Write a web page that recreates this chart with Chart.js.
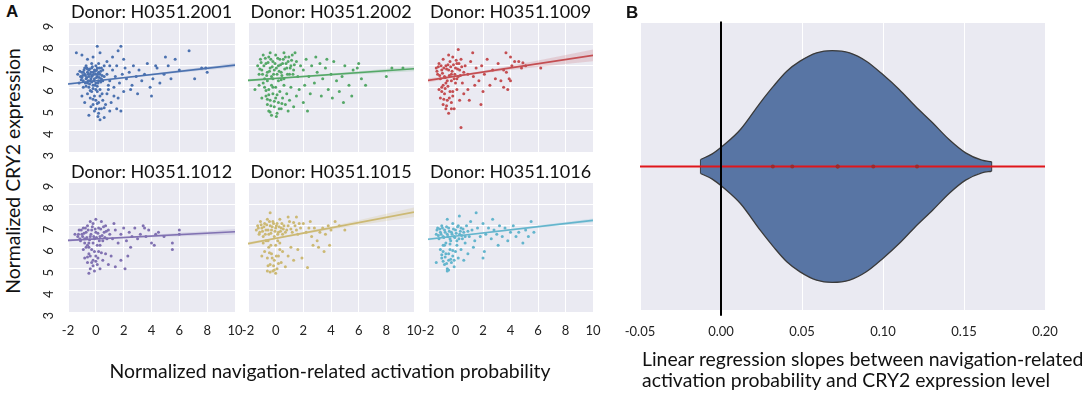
<!DOCTYPE html>
<html lang="en">
<head>
<meta charset="UTF-8">
<title>Navigation-related activation probability vs CRY2 expression</title>
<script src="https://cdn.jsdelivr.net/npm/chart.js"></script>
<style>
  body { margin: 0; background: #fff; font-family: Lato, sans-serif; }
  #fig { position: relative; width: 1084px; height: 395px; overflow: hidden; }
  #fig canvas { position: absolute; }
  .txt { position: absolute; color: #111; white-space: nowrap; font-size: 19.4px; }
  .panel { font-family: "Liberation Sans", Arial, sans-serif; font-weight: bold; font-size: 17px; }
</style>
</head>
<body>
<div id="fig">
  <canvas id="d0"></canvas>
  <canvas id="d1"></canvas>
  <canvas id="d2"></canvas>
  <canvas id="d3"></canvas>
  <canvas id="d4"></canvas>
  <canvas id="d5"></canvas>
  <canvas id="violin"></canvas>
  <div class="txt panel" style="left:6px; top:2px;">A</div>
  <div class="txt panel" style="left:626px; top:3px;">B</div>
  <div class="txt" style="left:12px; top:171px; transform:translate(-50%,-50%) rotate(-90deg);">Normalized CRY2 expression</div>
  <div class="txt" style="left:330px; top:370px; transform:translate(-50%,-50%);">Normalized navigation-related activation probability</div>
  <div class="txt" style="left:642px; top:348px; line-height:21px;">Linear regression slopes between navigation-related<br>activation probability and CRY2 expression level</div>
</div>

<script>
// ---- data ----
const donors = ['Donor: H0351.2001', 'Donor: H0351.2002', 'Donor: H0351.1009',
                'Donor: H0351.1012', 'Donor: H0351.1015', 'Donor: H0351.1016'];
const xTicksA = [-2, 0, 2, 4, 6, 8, 10];
const yTicksA = [3, 4, 5, 6, 7, 8, 9];
const xTicksB = [-0.05, 0.00, 0.05, 0.10, 0.15, 0.20];

// scatter points [activation probability, CRY2 expression]
const pts2001 = [[-1.1,6.5],[-1.0,6.7],[-0.9,6.3],[-0.8,6.6],[-0.8,6.9],[-0.7,6.4],[-0.6,6.7],[-0.6,6.2],[-0.5,6.5],[-0.5,6.8],
  [-0.4,6.6],[-0.4,6.3],[-0.3,6.9],[-0.3,6.5],[-0.2,6.7],[-0.2,6.1],[-0.1,6.4],[-0.1,6.8],[0.0,6.6],[0.0,6.2],[0.1,6.9],[0.1,6.5],
  [0.2,6.3],[0.2,6.7],[0.3,6.6],[0.4,6.4],[0.4,6.9],[-0.9,6.0],[-1.2,6.2],[-1.3,6.6],[-0.7,7.0],[-0.3,7.1],[0.2,7.1],[0.5,6.8],
  [0.6,6.5],[-0.5,6.0],[0.0,5.9],[-0.6,5.7],[-0.4,5.5],[-0.3,5.8],[-0.2,5.2],[-0.1,5.6],[0.0,5.0],[0.0,5.4],[0.1,5.8],[0.2,4.8],
  [0.2,5.3],[0.3,5.6],[0.4,5.0],[0.5,5.4],[0.6,4.6],[0.7,5.2],[0.8,5.7],[1.0,4.9],[1.1,5.3],[1.3,5.6],[1.5,5.0],[-0.8,5.3],
  [-1.0,5.6],[-0.5,4.7],[0.3,4.5],[0.9,5.9],[1.8,4.9],[1.6,5.5],[-0.1,4.9],[-1.0,7.5],[-0.6,7.3],[-0.2,7.4],[0.1,7.9],[0.3,7.6],
  [0.8,7.2],[1.2,7.4],[1.6,7.7],[1.8,7.9],[2.0,7.3],[-1.4,7.6],[0.6,7.0],[1.0,7.0],[0.8,6.6],[1.0,6.3],[1.2,6.8],[1.4,6.5],
  [1.5,7.0],[1.7,6.2],[1.9,6.6],[2.1,6.9],[2.2,6.4],[2.4,6.7],[2.6,6.1],[2.7,7.0],[2.9,6.5],[3.1,6.8],[3.3,6.3],[3.5,6.6],
  [3.7,7.1],[3.9,6.0],[4.1,6.4],[2.0,5.8],[2.5,5.9],[3.0,5.7],[4.0,5.6],[1.3,6.0],[0.9,6.1],[4.4,6.9],[4.6,6.2],[4.9,6.6],
  [5.2,7.0],[5.4,6.4],[5.7,7.3],[6.0,6.8],[6.7,7.7],[7.1,6.4],[7.6,6.9],[8.0,6.7],[7.9,6.9],[5.0,7.4],[4.3,7.0],
  [-1.15,6.75],[-1.05,6.35],[-0.95,6.55],[-0.85,6.8],[-0.75,6.2],[-0.75,6.55],[-0.65,6.9],[-0.65,6.45],[-0.55,6.3],[-0.55,6.6],
  [-0.45,6.85],[-0.45,6.15],[-0.35,6.4],[-0.35,6.7],[-0.25,6.55],[-0.25,6.95],[-0.15,6.3],[-0.15,6.6],[-0.05,6.75],[-0.05,6.1],
  [0.05,6.45],[0.05,6.8],[0.15,6.2],[0.15,6.6],[0.25,6.9],[0.25,6.45],[0.35,6.25],[0.35,6.75],[0.45,6.55],[-0.3,6.25],
  [-0.6,6.85],[-0.9,6.7],[-1.0,6.45],[0.0,7.0],[-0.2,5.95],[0.1,6.05],[-0.7,6.05],[0.5,6.3],[-0.4,5.85],[0.3,5.9],
  [-0.2,5.45],[0.1,5.25],[0.25,5.0],[0.45,5.7],[-0.35,5.1],[0.6,5.05],[0.15,4.65]];
const pts2002 = [[-1.3,7.0],[-1.2,6.6],[-1.1,7.3],[-1.0,6.8],[-0.9,7.5],[-0.8,6.4],[-0.7,7.1],[-0.6,6.7],[-0.5,7.4],[-0.4,6.9],
  [-0.3,6.5],[-0.2,7.2],[-0.1,6.8],[0.0,7.5],[0.1,6.6],[0.2,7.0],[0.3,7.3],[0.4,6.7],[0.5,7.1],[0.6,6.4],[0.7,7.4],[0.8,6.9],
  [0.9,7.2],[1.0,6.6],[1.1,7.0],[1.2,7.5],[1.3,6.8],[1.5,7.2],[1.6,6.5],[1.8,7.0],[-0.9,6.2],[0.2,6.3],[1.4,7.6],[-0.4,7.6],
  [0.6,7.6],[-0.8,6.0],[-0.7,5.6],[-0.6,5.2],[-0.5,5.9],[-0.5,4.9],[-0.4,5.4],[-0.3,6.1],[-0.3,4.7],[-0.2,5.7],[-0.1,5.1],
  [0.0,5.5],[0.0,6.0],[0.1,4.8],[0.2,5.3],[0.3,5.8],[0.4,5.0],[0.5,5.5],[0.6,6.1],[0.7,5.2],[0.8,5.7],[1.0,5.4],[1.1,6.0],
  [1.3,5.1],[1.5,5.6],[-1.0,5.5],[-1.5,5.9],[-1.2,6.1],[0.9,4.9],[2.3,4.9],[2.0,5.3],[1.7,5.9],[2.0,6.8],[2.2,7.3],[2.4,6.5],
  [2.6,7.0],[2.8,6.2],[3.0,6.7],[3.2,7.1],[3.4,6.4],[3.6,6.9],[3.8,5.9],[4.0,6.6],[4.2,7.2],[4.4,6.3],[4.6,5.8],[4.8,6.5],
  [5.0,7.0],[2.5,5.7],[3.3,5.6],[4.1,5.5],[2.9,7.4],[3.7,7.3],[2.1,6.1],[5.3,6.1],[5.6,6.8],[5.9,6.9],[6.2,6.4],[6.5,6.1],
  [5.5,5.6],[4.9,5.3],[8.0,6.5],[8.4,6.9],[9.2,6.9],[6.0,7.1],
  [-1.15,6.85],[-1.05,7.15],[-0.95,6.6],[-0.85,7.0],[-0.75,7.35],[-0.65,6.55],[-0.55,7.15],[-0.45,6.75],[-0.35,7.3],[-0.25,6.95],
  [-0.15,6.6],[-0.05,7.1],[0.05,6.9],[0.15,7.35],[0.25,6.75],[0.35,7.05],[0.45,6.55],[0.55,7.3],[0.65,6.85],[0.75,7.1],
  [0.85,6.6],[0.95,7.4],[1.05,6.9],[1.15,7.25],[1.25,6.6],[1.35,7.05],[-0.6,6.3],[-0.2,6.4],[0.4,6.35],[-0.5,5.65],
  [-0.35,5.15],[-0.2,6.0],[-0.1,5.35],[0.1,5.65],[0.25,5.0],[-0.6,5.45],[-0.4,4.85],[0.45,5.25],[0.05,4.65],[-0.7,5.85]];
const pts1009 = [[-1.4,6.9],[-1.3,6.6],[-1.2,7.1],[-1.1,6.4],[-1.0,6.8],[-0.9,7.3],[-0.8,6.5],[-0.7,7.0],[-0.6,6.3],[-0.5,6.8],
  [-0.4,7.2],[-0.3,6.6],[-0.2,7.4],[-0.1,6.4],[0.0,6.9],[0.1,7.1],[0.2,6.5],[0.3,6.8],[0.4,7.3],[0.5,6.2],[0.6,6.7],[0.7,7.0],
  [-0.5,7.5],[0.2,7.75],[-0.9,6.1],[0.0,6.2],[-1.2,5.9],[-1.1,5.5],[-1.0,6.0],[-0.9,5.2],[-0.8,5.7],[-0.7,5.0],[-0.6,5.4],
  [-0.5,4.8],[-0.4,5.8],[-0.3,5.3],[-0.2,5.6],[-0.1,5.0],[0.1,5.9],[0.3,5.4],[0.6,5.7],[0.9,5.9],[0.4,4.14],[0.9,6.6],[1.1,7.2],
  [1.25,7.6],[1.3,6.5],[1.5,6.9],[1.7,6.3],[1.9,7.0],[2.1,6.6],[2.3,7.3],[2.5,6.1],[2.7,6.8],[2.9,6.4],[3.1,7.1],[3.3,6.3],
  [3.5,6.0],[3.7,6.7],[3.9,6.4],[4.1,7.0],[4.3,7.2],[4.6,7.2],[5.1,7.0],[6.2,6.9],[2.0,5.8],[1.4,6.1],[3.8,5.9],[1.0,5.4],
  [4.0,7.4],[4.8,6.9],[3.5,6.8],[4.0,6.3],[1.85,5.2],[3.67,7.6],[4.9,7.14],
  [-1.35,6.75],[-1.25,6.95],[-1.15,6.55],[-1.05,7.0],[-0.95,6.65],[-0.85,6.9],[-0.75,6.45],[-0.65,6.85],[-0.55,7.05],[-0.45,6.55],
  [-0.35,6.95],[-0.25,6.75],[-0.15,7.05],[-0.05,6.6],[0.05,7.25],[0.15,6.85],[0.25,7.1],[0.35,6.55],[0.45,6.95],[-0.7,6.2],
  [-0.3,6.3],[0.1,6.4],[-1.0,5.8],[-0.85,5.45],[-0.75,5.95],[-0.65,5.15],[-0.45,5.5],[-0.3,5.0],[-0.55,6.05],[-0.2,5.8]];
const pts1012 = [[-1.3,6.5],[-1.2,6.8],[-1.1,6.3],[-1.0,6.6],[-0.9,6.9],[-0.8,6.4],[-0.7,6.7],[-0.6,7.0],[-0.5,6.2],[-0.4,6.5],
  [-0.3,6.8],[-0.2,7.1],[-0.1,6.4],[0.0,6.7],[0.1,6.1],[0.2,6.9],[0.3,6.5],[0.4,7.2],[0.5,6.3],[0.6,6.7],[0.7,7.0],[0.8,6.4],
  [0.9,6.8],[-0.6,6.1],[0.0,7.3],[-0.4,7.2],[1.0,6.6],[-1.5,6.6],[-0.9,5.9],[-0.8,5.5],[-0.7,6.0],[-0.6,5.3],[-0.5,5.7],
  [-0.4,5.0],[-0.3,5.9],[-0.2,5.4],[-0.1,4.9],[0.0,5.6],[0.1,5.2],[0.2,5.8],[0.3,5.0],[0.5,5.4],[0.7,5.7],[0.9,5.2],[1.1,5.6],
  [1.4,5.1],[2.1,5.0],[-0.5,4.8],[1.8,5.4],[1.2,6.4],[1.4,6.8],[1.6,6.2],[1.8,6.6],[2.0,6.9],[2.2,6.3],[2.4,6.7],[2.6,6.5],
  [2.8,6.9],[3.0,6.4],[3.2,6.6],[3.4,7.0],[3.6,6.5],[3.8,6.8],[4.0,6.2],[4.2,6.1],[4.3,6.6],[4.5,6.7],[2.3,5.6],[1.3,7.1],
  [2.5,6.0],[3.5,6.9],[5.5,6.2],[5.5,5.9],[6.0,6.8],[6.0,6.6],[4.9,6.5],
  [-1.25,6.6],[-1.15,6.4],[-1.05,6.8],[-0.95,6.5],[-0.85,6.65],[-0.75,6.9],[-0.65,6.45],[-0.55,6.8],[-0.45,6.35],[-0.35,6.6],
  [-0.25,6.95],[-0.15,6.5],[-0.05,6.85],[0.05,6.45],[0.15,6.65],[0.25,6.3],[0.35,6.85],[0.45,6.55],[0.55,6.95],[0.65,6.45],
  [0.75,6.75],[-0.8,6.2],[-0.2,6.2],[0.3,6.1],[-0.5,6.0],[-0.4,5.6],[-0.2,5.15],[0.0,5.35],[0.15,5.5],[-0.6,5.55],
  [0.4,5.75],[-0.1,5.8],[-0.3,5.3]];
const pts1015 = [[-1.4,6.8],[-1.3,7.0],[-1.2,6.6],[-1.1,7.2],[-1.0,6.9],[-0.9,6.5],[-0.8,7.1],[-0.7,6.8],[-0.6,7.3],[-0.5,6.6],
  [-0.4,7.0],[-0.3,6.8],[-0.2,7.2],[-0.1,6.5],[0.0,6.9],[0.1,7.1],[0.2,6.7],[0.3,7.3],[0.4,6.9],[0.5,6.6],[0.6,7.0],[0.8,6.8],
  [1.0,7.2],[1.2,6.7],[1.4,7.0],[1.6,6.6],[1.8,6.9],[2.0,7.1],[2.2,6.7],[2.4,6.9],[-0.4,7.6],[0.9,7.4],[1.5,7.4],[-0.9,6.2],
  [-0.8,5.8],[-0.7,6.3],[-0.6,5.5],[-0.5,6.0],[-0.4,5.2],[-0.3,5.7],[-0.2,4.9],[-0.1,5.4],[0.0,6.1],[0.1,5.0],[0.2,5.6],
  [0.3,6.2],[0.4,5.3],[0.5,5.8],[0.7,5.1],[0.9,5.6],[1.1,6.0],[1.3,5.4],[1.6,5.9],[-0.6,4.9],[0.0,4.8],[-1.0,5.6],[2.3,5.06],
  [1.9,5.5],[2.6,6.5],[2.8,6.9],[3.0,6.3],[3.2,6.7],[3.4,6.9],[3.6,6.6],[3.8,7.0],[4.0,6.8],[4.3,7.2],[4.6,7.0],[5.0,6.8],
  [3.1,6.0],[3.5,5.8],[2.7,6.1],[3.9,6.1],[2.5,7.2],
  [-1.25,6.9],[-1.15,6.7],[-1.05,7.05],[-0.95,6.75],[-0.85,6.95],[-0.75,6.6],[-0.65,7.05],[-0.55,6.8],[-0.45,7.2],[-0.35,6.65],
  [-0.25,6.95],[-0.15,7.1],[-0.05,6.75],[0.05,7.0],[0.15,6.6],[0.25,6.95],[0.35,6.75],[0.45,7.1],[0.55,6.85],[0.7,6.7],
  [0.9,7.0],[1.1,6.85],[1.3,7.15],[1.5,6.8],[1.7,7.1],[-0.55,6.3],[-0.35,6.1],[-0.25,5.5],[-0.45,5.75],[-0.15,5.15],
  [0.05,5.6],[0.2,5.25],[-0.55,5.15],[-0.1,4.95],[0.3,5.9],[-0.4,4.85],[0.15,6.3]];
const pts1016 = [[-1.4,6.6],[-1.3,6.9],[-1.2,6.4],[-1.1,6.7],[-1.0,7.0],[-0.9,6.5],[-0.8,6.8],[-0.7,6.2],[-0.6,6.6],[-0.5,6.9],
  [-0.4,6.4],[-0.3,6.7],[-0.2,7.1],[-0.1,6.5],[0.0,6.8],[0.1,6.3],[0.2,7.0],[0.3,6.6],[0.4,6.9],[0.5,6.4],[0.6,6.7],[0.8,7.0],
  [1.0,6.5],[-0.6,7.3],[0.28,7.45],[-0.9,6.1],[0.7,6.2],[-1.1,5.9],[-1.0,5.5],[-0.9,5.8],[-0.8,5.2],[-0.7,5.7],[-0.6,5.0],
  [-0.5,5.4],[-0.4,5.9],[-0.3,5.3],[-0.2,5.6],[-0.1,5.1],[0.0,5.8],[0.2,5.5],[0.4,5.9],[0.6,5.4],[-1.4,5.3],[-0.5,4.95],
  [0.9,5.7],[2.0,5.5],[1.2,6.8],[1.4,6.3],[1.5,7.6],[1.6,6.9],[1.8,6.5],[2.0,7.1],[2.2,6.6],[2.4,6.9],[2.6,6.4],[2.8,6.8],
  [3.0,6.6],[3.2,7.0],[3.4,6.5],[3.6,6.9],[3.8,6.3],[4.0,6.7],[4.2,7.0],[4.4,6.5],[4.6,6.7],[1.3,6.0],[2.1,5.8],[3.1,6.1],
  [1.1,7.2],[2.7,7.3],[5.1,6.8],[5.5,7.2],[5.7,6.7],[4.9,6.2],[5.3,6.5],
  [-1.35,6.8],[-1.25,6.55],[-1.15,6.85],[-1.05,6.6],[-0.95,6.9],[-0.85,6.45],[-0.75,6.7],[-0.65,6.95],[-0.55,6.5],[-0.45,6.75],
  [-0.35,6.3],[-0.25,6.6],[-0.15,6.85],[-0.05,6.45],[0.05,6.65],[0.15,6.95],[0.25,6.4],[0.35,6.75],[0.45,6.55],[0.55,6.85],
  [0.7,6.5],[0.9,6.75],[-0.8,6.1],[-0.4,6.15],[0.1,6.1],[-1.0,5.65],[-0.9,5.35],[-0.75,5.55],[-0.65,5.25],[-0.5,5.7],
  [-0.35,5.45],[-0.6,4.9],[-0.1,5.4],[-0.2,5.85]];
const allPts = [pts2001, pts2002, pts1009, pts1012, pts1015, pts1016];

// regression line end values at x = -2 and x = 10
const fitX = [-2, 10];
const fits = [[6.15, 7.03], [6.32, 6.86], [6.32, 7.48], [6.32, 6.72], [6.17, 7.63], [6.37, 7.25]];

// confidence band edges at bandX
const bandX = [-2, 0, 2, 4, 6, 8, 10];
const bandLo = [[6.09, 6.28, 6.41, 6.55, 6.68, 6.80, 6.93],
                [6.26, 6.39, 6.47, 6.54, 6.61, 6.68, 6.75],
                [6.22, 6.47, 6.65, 6.80, 6.94, 7.08, 7.21],
                [6.26, 6.37, 6.42, 6.47, 6.51, 6.55, 6.59],
                [6.09, 6.38, 6.61, 6.82, 7.02, 7.22, 7.41],
                [6.31, 6.50, 6.63, 6.77, 6.91, 7.03, 7.16]];
const bandHi = [[6.21, 6.32, 6.47, 6.63, 6.80, 6.96, 7.13],
                [6.38, 6.43, 6.53, 6.64, 6.75, 6.86, 6.97],
                [6.42, 6.55, 6.77, 7.00, 7.24, 7.50, 7.75],
                [6.38, 6.41, 6.48, 6.57, 6.67, 6.75, 6.85],
                [6.25, 6.44, 6.71, 6.98, 7.26, 7.56, 7.85],
                [6.43, 6.54, 6.69, 6.85, 7.01, 7.17, 7.34]];

// violin: slope value and half width of the density outline
const violinX = [-0.0126, -0.0054, 0.0021, 0.012, 0.0242, 0.0324, 0.0406, 0.0488, 0.059, 0.0686,
                 0.0794, 0.0897, 0.0999, 0.110, 0.120, 0.1306, 0.1408, 0.151, 0.161, 0.167];
const violinHalf = [0.049, 0.088, 0.153, 0.258, 0.444, 0.56, 0.664, 0.734, 0.792, 0.808,
                    0.792, 0.734, 0.641, 0.537, 0.42, 0.305, 0.188, 0.095, 0.044, 0.033];
const slopes = [0.032, 0.044, 0.072, 0.072, 0.094, 0.121];

// ---- styling ----
const colors = ['#4c72b0', '#55a868', '#c44e52', '#8172b2', '#ccb974', '#64b5cd'];
const bandColors = ['rgba(76,114,176,0.18)', 'rgba(85,168,104,0.18)', 'rgba(196,78,82,0.18)',
                    'rgba(129,114,178,0.18)', 'rgba(204,185,116,0.2)', 'rgba(100,181,205,0.18)'];
const FONT = 'Lato, "Open Sans", sans-serif';

const plotBg = {
  id: 'plotBg',
  beforeDraw(chart) {
    const { ctx, chartArea: a } = chart;
    ctx.save();
    ctx.fillStyle = '#eaeaf2';
    ctx.fillRect(a.left, a.top, a.right - a.left, a.bottom - a.top);
    ctx.restore();
  }
};

function fixTicks(list) {
  return scale => { scale.ticks = list.map(v => ({ value: v })); };
}

// plot area positions of the six small panels
const colLeft = [68, 248, 428];
const colWidth = [167, 166, 165];
const rowTop = [23, 183];
const plotH = 130;
const titleH = 28.6;   // 18px * 1.2 + 7 padding

function donorChart(i) {
  const col = i % 3, row = Math.floor(i / 3);
  const yW = col === 0 ? 25 : 0;
  const xH = row === 1 ? 30 : 0;
  const canvas = document.getElementById('d' + i);
  canvas.width = 25 + colWidth[col] + 25;
  canvas.height = titleH + plotH + xH + 30;
  canvas.style.left = (colLeft[col] - 25) + 'px';
  canvas.style.top = (rowTop[row] - titleH) + 'px';

  const line = (data, extra) => Object.assign({
    type: 'line', data: data, pointRadius: 0, borderWidth: 0, showLine: true, fill: false
  }, extra);

  new Chart(canvas, {
    type: 'scatter',
    data: {
      datasets: [
        line(fitX.map((x, k) => [x, fits[i][k]]), { borderColor: colors[i], borderWidth: 1.6, order: 0 }),
        line(bandX.map((x, k) => [x, bandLo[i][k]]), { borderColor: 'transparent', order: 1 }),
        line(bandX.map((x, k) => [x, bandHi[i][k]]), { borderColor: 'transparent', backgroundColor: bandColors[i], fill: '-1', order: 1 }),
        { data: allPts[i], backgroundColor: colors[i], pointRadius: 1.5, pointBorderWidth: 0, order: 2 }
      ]
    },
    options: {
      responsive: false,
      animation: false,
      layout: { padding: { left: 25 - yW, right: 25, top: 0, bottom: 30 } },
      plugins: {
        legend: { display: false },
        tooltip: { enabled: false },
        title: {
          display: true, text: donors[i], fullSize: false, color: '#111',
          font: { family: FONT, size: 18, weight: 'normal', lineHeight: 1.2 },
          padding: { top: 7, bottom: 0 }
        }
      },
      scales: {
        x: {
          min: -2, max: 10,
          afterBuildTicks: fixTicks(xTicksA),
          afterFit: s => { s.height = xH; },
          grid: { color: '#ffffff', lineWidth: 1, drawTicks: false },
          border: { display: false },
          ticks: { display: row === 1, padding: 11, color: '#222', maxRotation: 0,
                   font: { family: FONT, size: 13 } }
        },
        y: {
          min: 3, max: 9,
          afterBuildTicks: fixTicks(yTicksA),
          afterFit: s => { s.width = yW; },
          grid: { color: '#ffffff', lineWidth: 1, drawTicks: false },
          border: { display: false },
          ticks: { display: col === 0, padding: 19, color: '#222', minRotation: 90, maxRotation: 90,
                   font: { family: FONT, size: 13 } }
        }
      }
    },
    plugins: [plotBg]
  });
}

for (let i = 0; i < 6; i++) donorChart(i);

// ---- panel B: violin of regression slopes ----
const vCanvas = document.getElementById('violin');
vCanvas.width = 32 + 405 + 32;
vCanvas.height = 4 + 287 + 30 + 10;
vCanvas.style.left = (640 - 32) + 'px';
vCanvas.style.top = (23 - 4) + 'px';

const edge = { type: 'line', pointRadius: 0, showLine: true, fill: false,
               borderColor: '#3a3a3a', borderWidth: 1.3, cubicInterpolationMode: 'monotone' };
const last = violinX.length - 1;

new Chart(vCanvas, {
  type: 'scatter',
  data: {
    datasets: [
      { type: 'line', data: [[0, 1.01], [0, -1.04]], borderColor: '#000', borderWidth: 2,
        pointRadius: 0, showLine: true, fill: false, clip: false, order: 0 },
      { data: slopes.map(s => [s, 0]), backgroundColor: '#9e2a2b', pointRadius: 2, pointBorderWidth: 0, order: 1 },
      { type: 'line', data: [[-0.05, 0], [0.20, 0]], borderColor: '#e0161b', borderWidth: 2,
        pointRadius: 0, showLine: true, fill: false, order: 2 },
      Object.assign({}, edge, { data: violinX.map((x, k) => [x, -violinHalf[k]]), order: 3 }),
      Object.assign({}, edge, { data: violinX.map((x, k) => [x, violinHalf[k]]),
                                backgroundColor: '#5875a4', fill: '-1', order: 3 }),
      Object.assign({}, edge, { data: [[violinX[0], -violinHalf[0]], [violinX[0], violinHalf[0]]], order: 3 }),
      Object.assign({}, edge, { data: [[violinX[last], -violinHalf[last]], [violinX[last], violinHalf[last]]], order: 3 })
    ]
  },
  options: {
    responsive: false,
    animation: false,
    layout: { padding: { left: 32, right: 32, top: 4, bottom: 10 } },
    plugins: { legend: { display: false }, tooltip: { enabled: false } },
    scales: {
      x: {
        min: -0.05, max: 0.20,
        afterBuildTicks: fixTicks(xTicksB),
        afterFit: s => { s.height = 30; },
        grid: { color: '#ffffff', lineWidth: 1, drawTicks: false },
        border: { display: false },
        ticks: { padding: 14, color: '#222', maxRotation: 0,
                 font: { family: FONT, size: 13 },
                 callback: v => v.toFixed(2) }
      },
      y: { min: -1, max: 1, display: false }
    }
  },
  plugins: [plotBg]
});
</script>
</body>
</html>
